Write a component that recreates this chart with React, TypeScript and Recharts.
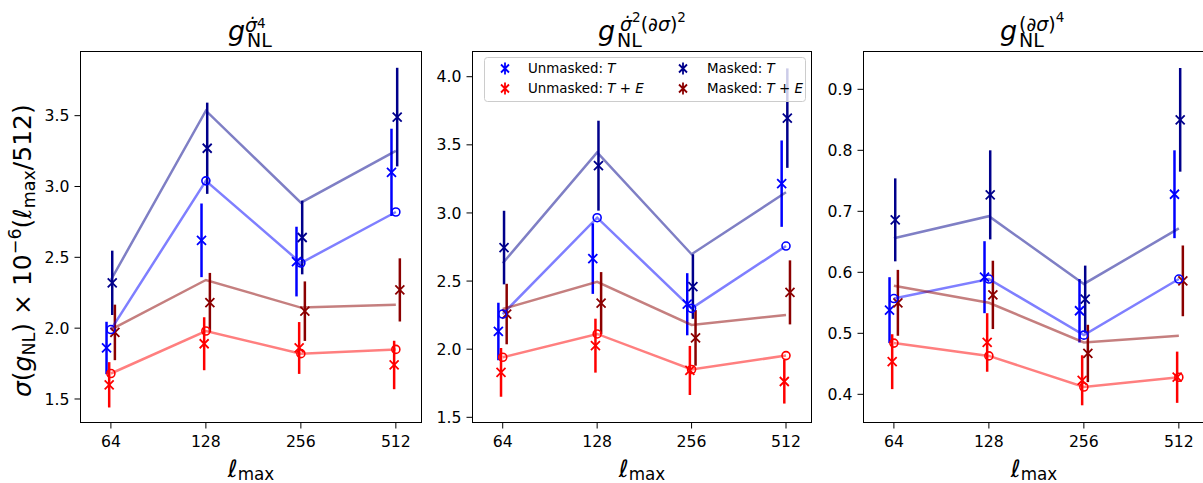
import React from "react";
import { ComposedChart, Scatter, XAxis, YAxis, ErrorBar } from "recharts";

const ELL = [64, 128, 256, 512];
const XTICKS = ELL.map((l) => Math.log2(l));
const XTICK_LABELS = ["64", "128", "256", "512"];

// g_NL^{sigma-dot^4}
const sd4UnmaskedT = [1.86, 2.62, 2.47, 3.1];
const sd4UnmaskedTErr = [0.185, 0.26, 0.246, 0.308];
const sd4UnmaskedTE = [1.6, 1.89, 1.86, 1.74];
const sd4UnmaskedTEErr = [0.16, 0.187, 0.183, 0.171];
const sd4MaskedT = [2.32, 3.27, 2.64, 3.49];
const sd4MaskedTErr = [0.227, 0.322, 0.26, 0.348];
const sd4MaskedTE = [1.97, 2.18, 2.12, 2.27];
const sd4MaskedTEErr = [0.196, 0.21, 0.21, 0.223];
const sd4FisherUnmaskedT = [1.99, 3.04, 2.46, 2.82];
const sd4FisherUnmaskedTE = [1.68, 1.98, 1.82, 1.85];
const sd4FisherMaskedT = [2.34, 3.535, 2.886, 3.252];
const sd4FisherMaskedTE = [1.99, 2.34, 2.145, 2.165];

// g_NL^{sigma-dot^2 (d sigma)^2}
const mixUnmaskedT = [2.13, 2.665, 2.33, 3.215];
const mixUnmaskedTErr = [0.211, 0.259, 0.228, 0.317];
const mixUnmaskedTE = [1.83, 2.026, 1.844, 1.763];
const mixUnmaskedTEErr = [0.179, 0.198, 0.18, 0.162];
const mixMaskedT = [2.746, 3.347, 2.46, 3.696];
const mixMaskedTErr = [0.27, 0.33, 0.237, 0.365];
const mixMaskedTE = [2.258, 2.338, 2.083, 2.417];
const mixMaskedTEErr = [0.222, 0.228, 0.204, 0.235];
const mixFisherUnmaskedT = [2.258, 2.965, 2.3, 2.757];
const mixFisherUnmaskedTE = [1.941, 2.112, 1.851, 1.953];
const mixFisherMaskedT = [2.631, 3.444, 2.697, 3.152];
const mixFisherMaskedTE = [2.295, 2.494, 2.178, 2.251];

// g_NL^{(d sigma)^4}
const ds4UnmaskedT = [0.538, 0.592, 0.537, 0.728];
const ds4UnmaskedTErr = [0.054, 0.059, 0.052, 0.072];
const ds4UnmaskedTE = [0.4535, 0.485, 0.423, 0.428];
const ds4UnmaskedTEErr = [0.045, 0.048, 0.041, 0.042];
const ds4MaskedT = [0.686, 0.727, 0.556, 0.85];
const ds4MaskedTErr = [0.068, 0.073, 0.055, 0.085];
const ds4MaskedTE = [0.55, 0.563, 0.467, 0.586];
const ds4MaskedTEErr = [0.054, 0.056, 0.047, 0.058];
const ds4FisherUnmaskedT = [0.557, 0.589, 0.497, 0.589];
const ds4FisherUnmaskedTE = [0.484, 0.463, 0.412, 0.428];
const ds4FisherMaskedT = [0.656, 0.692, 0.581, 0.672];
const ds4FisherMaskedTE = [0.578, 0.55, 0.485, 0.496];

const BLUE = "#0000ff";
const RED = "#ff0000";
const NAVY = "#00008b";
const DARKRED = "#8b0000";
const FONT = "DejaVu Sans, sans-serif";

type Kind = "cross" | "circleLine" | "line";
type Series = { name: string; vals: number[]; errs?: number[]; color: string; shift: number; kind: Kind };

const pts = (s: Series) =>
  ELL.map((l, i) => ({ x: Math.log2(l) + s.shift, y: s.vals[i], err: s.errs ? s.errs[i] : 0 }));

const makeSeries = (
  uT: number[], uTErr: number[], uTE: number[], uTEErr: number[],
  mT: number[], mTErr: number[], mTE: number[], mTEErr: number[],
  fuT: number[], fuTE: number[], fmT: number[], fmTE: number[]
): Series[] => [
  { name: "Unmasked: T", vals: uT, errs: uTErr, color: BLUE, shift: -0.046, kind: "cross" },
  { name: "Unmasked: T+E", vals: uTE, errs: uTEErr, color: RED, shift: -0.018, kind: "cross" },
  { name: "Masked: T", vals: mT, errs: mTErr, color: NAVY, shift: 0.014, kind: "cross" },
  { name: "Masked: T+E", vals: mTE, errs: mTEErr, color: DARKRED, shift: 0.042, kind: "cross" },
  { name: "fisher uT", vals: fuT, color: BLUE, shift: 0, kind: "circleLine" },
  { name: "fisher uTE", vals: fuTE, color: RED, shift: 0, kind: "circleLine" },
  { name: "fisher mT", vals: fmT, color: NAVY, shift: 0, kind: "line" },
  { name: "fisher mTE", vals: fmTE, color: DARKRED, shift: 0, kind: "line" },
];

const xMarker = (color: string) => (p: any) => {
  const { cx, cy } = p;
  if (cx == null || cy == null) return <g />;
  const s = 4.5;
  return (
    <path
      d={`M${cx - s},${cy - s}L${cx + s},${cy + s}M${cx - s},${cy + s}L${cx + s},${cy - s}`}
      stroke={color}
      strokeWidth={1.8}
      fill="none"
    />
  );
};

const circleMarker = (color: string) => (p: any) => {
  const { cx, cy } = p;
  if (cx == null || cy == null) return <g />;
  return <circle cx={cx} cy={cy} r={4} stroke={color} strokeWidth={1.6} fill="none" />;
};

const noMarker = () => <g />;

const tickStyle = { fill: "#000", fontSize: 15.7, fontFamily: FONT };

function Panel({
  left, width, yDomain, yTicks, series,
}: { left: number; width: number; yDomain: [number, number]; yTicks: number[]; series: Series[] }) {
  return (
    <div style={{ position: "absolute", left: left - 70, top: 0 }}>
      <ComposedChart width={70.5 + width + 10} height={483} margin={{ top: 51.5, right: 10, bottom: 0, left: 0 }}>
        <XAxis
          type="number"
          dataKey="x"
          domain={[5.68, 9.27]}
          ticks={XTICKS}
          interval={0}
          allowDataOverflow
          tickFormatter={(v: number) => XTICK_LABELS[XTICKS.indexOf(v)] ?? ""}
          height={60.5}
          tickSize={6}
          tickMargin={7}
          stroke="#000"
          tick={tickStyle}
        />
        <YAxis
          type="number"
          dataKey="y"
          domain={yDomain}
          ticks={yTicks}
          interval={0}
          allowDataOverflow
          tickFormatter={(v: number) => v.toFixed(1)}
          width={70.5}
          tickSize={6}
          tickMargin={5}
          stroke="#000"
          tick={tickStyle}
        />
        {series.map((s) =>
          s.kind === "cross" ? (
            <Scatter key={s.name} name={s.name} data={pts(s)} fill={s.color} shape={xMarker(s.color)} isAnimationActive={false}>
              <ErrorBar dataKey="err" direction="y" width={0} stroke={s.color} strokeWidth={2.5} />
            </Scatter>
          ) : (
            <Scatter
              key={s.name}
              name={s.name}
              data={pts(s)}
              fill={s.color}
              line={{ stroke: s.color, strokeOpacity: 0.5, strokeWidth: 2.5 }}
              shape={s.kind === "circleLine" ? circleMarker(s.color) : noMarker}
              isAnimationActive={false}
            />
          )
        )}
      </ComposedChart>
    </div>
  );
}

const PANELS = [
  { left: 80, width: 341, yDomain: [1.334, 3.953] as [number, number], yTicks: [1.5, 2.0, 2.5, 3.0, 3.5] },
  { left: 472, width: 339, yDomain: [1.462, 4.185] as [number, number], yTicks: [1.5, 2.0, 2.5, 3.0, 3.5, 4.0] },
  { left: 863, width: 341, yDomain: [0.3538, 0.962] as [number, number], yTicks: [0.4, 0.5, 0.6, 0.7, 0.8, 0.9] },
];

const SERIES = [
  makeSeries(sd4UnmaskedT, sd4UnmaskedTErr, sd4UnmaskedTE, sd4UnmaskedTEErr, sd4MaskedT, sd4MaskedTErr, sd4MaskedTE, sd4MaskedTEErr,
    sd4FisherUnmaskedT, sd4FisherUnmaskedTE, sd4FisherMaskedT, sd4FisherMaskedTE),
  makeSeries(mixUnmaskedT, mixUnmaskedTErr, mixUnmaskedTE, mixUnmaskedTEErr, mixMaskedT, mixMaskedTErr, mixMaskedTE, mixMaskedTEErr,
    mixFisherUnmaskedT, mixFisherUnmaskedTE, mixFisherMaskedT, mixFisherMaskedTE),
  makeSeries(ds4UnmaskedT, ds4UnmaskedTErr, ds4UnmaskedTE, ds4UnmaskedTEErr, ds4MaskedT, ds4MaskedTErr, ds4MaskedTE, ds4MaskedTEErr,
    ds4FisherUnmaskedT, ds4FisherUnmaskedTE, ds4FisherMaskedT, ds4FisherMaskedTE),
];

function LegendMarker({ x, y, color }: { x: number; y: number; color: string }) {
  const s = 4;
  return (
    <path
      d={`M${x},${y - 6}L${x},${y + 6}M${x - s},${y - s}L${x + s},${y + s}M${x - s},${y + s}L${x + s},${y - s}`}
      stroke={color}
      strokeWidth={1.8}
      fill="none"
    />
  );
}

function Overlay() {
  return (
    <svg width={1203} height={483} style={{ position: "absolute", left: 0, top: 0, pointerEvents: "none" }}>
      {PANELS.map((p) => (
        <rect key={p.left} x={p.left + 0.5} y={51.5} width={p.width} height={371} fill="none" stroke="#000" strokeWidth={1} />
      ))}

      {/* titles */}
      <text fontFamily={FONT} fontSize={27} fill="#000">
        <tspan x={228} y={40} fontStyle="italic">g</tspan>
        <tspan x={247} y={46.7} fontSize={19}>NL</tspan>
        <tspan x={245} y={31.5} fontSize={19} fontStyle="italic">σ̇</tspan>
        <tspan y={27.5} fontSize={13.5}>4</tspan>
      </text>
      <text fontFamily={FONT} fontSize={27} fill="#000">
        <tspan x={598} y={40} fontStyle="italic">g</tspan>
        <tspan x={617} y={46.7} fontSize={19}>NL</tspan>
        <tspan x={620} y={30.5} fontSize={19} fontStyle="italic">σ̇</tspan>
        <tspan y={21.5} fontSize={13.5}>2</tspan>
        <tspan y={30.5} fontSize={19}>(∂</tspan>
        <tspan fontSize={19} fontStyle="italic">σ</tspan>
        <tspan fontSize={19}>)</tspan>
        <tspan y={21.5} fontSize={13.5}>2</tspan>
      </text>
      <text fontFamily={FONT} fontSize={27} fill="#000">
        <tspan x={1000} y={40} fontStyle="italic">g</tspan>
        <tspan x={1019} y={46.7} fontSize={19}>NL</tspan>
        <tspan x={1019} y={30.5} fontSize={19}>(∂</tspan>
        <tspan fontSize={19} fontStyle="italic">σ</tspan>
        <tspan fontSize={19}>)</tspan>
        <tspan y={21.5} fontSize={13.5}>4</tspan>
      </text>

      {/* x labels */}
      {PANELS.map((p) => (
        <text key={p.left} x={p.left + 0.5 + p.width / 2} y={477} textAnchor="middle" fontFamily={FONT} fontSize={24} fill="#000">
          <tspan fontStyle="italic">ℓ</tspan>
          <tspan fontSize={16.8} dy={3}>max</tspan>
        </text>
      ))}

      {/* y label, drawn from the bottom upwards */}
      <text transform="translate(31,397) rotate(-90)" textAnchor="start" fontFamily={FONT} fontSize={25} fill="#000">
        <tspan fontStyle="italic">σ</tspan>
        <tspan>(</tspan>
        <tspan fontStyle="italic">g</tspan>
        <tspan fontSize={17.5} dy={4}>NL</tspan>
        <tspan dy={-4}>{") \u00d7 10"}</tspan>
        <tspan fontSize={17.5} dy={-10}>−6</tspan>
        <tspan dy={10}>(</tspan>
        <tspan fontStyle="italic">ℓ</tspan>
        <tspan fontSize={17.5} dy={4}>max</tspan>
        <tspan dy={-4}>/512)</tspan>
      </text>

      {/* legend */}
      <rect x={484.5} y={57.5} width={321} height={44} rx={3} fill="#fff" fillOpacity={0.8} stroke="#cccccc" />
      <LegendMarker x={505} y={68.5} color={BLUE} />
      <LegendMarker x={505} y={88.5} color={RED} />
      <LegendMarker x={683} y={68.5} color={NAVY} />
      <LegendMarker x={683} y={88.5} color={DARKRED} />
      <text fontFamily={FONT} fontSize={13.4} fill="#000">
        <tspan x={528} y={72.7}>Unmasked: </tspan>
        <tspan fontStyle="italic">T</tspan>
        <tspan x={528} y={92.7}>Unmasked: </tspan>
        <tspan fontStyle="italic">T</tspan>
        <tspan> + </tspan>
        <tspan fontStyle="italic">E</tspan>
        <tspan x={707} y={72.7}>Masked: </tspan>
        <tspan fontStyle="italic">T</tspan>
        <tspan x={707} y={92.7}>Masked: </tspan>
        <tspan fontStyle="italic">T</tspan>
        <tspan> + </tspan>
        <tspan fontStyle="italic">E</tspan>
      </text>
    </svg>
  );
}

export default function App() {
  return (
    <div style={{ position: "absolute", left: 0, top: 0, width: 1203, height: 483, overflow: "hidden", background: "#fff" }}>
      {PANELS.map((p, i) => (
        <Panel key={p.left} left={p.left} width={p.width} yDomain={p.yDomain} yTicks={p.yTicks} series={SERIES[i]} />
      ))}
      <Overlay />
    </div>
  );
}
